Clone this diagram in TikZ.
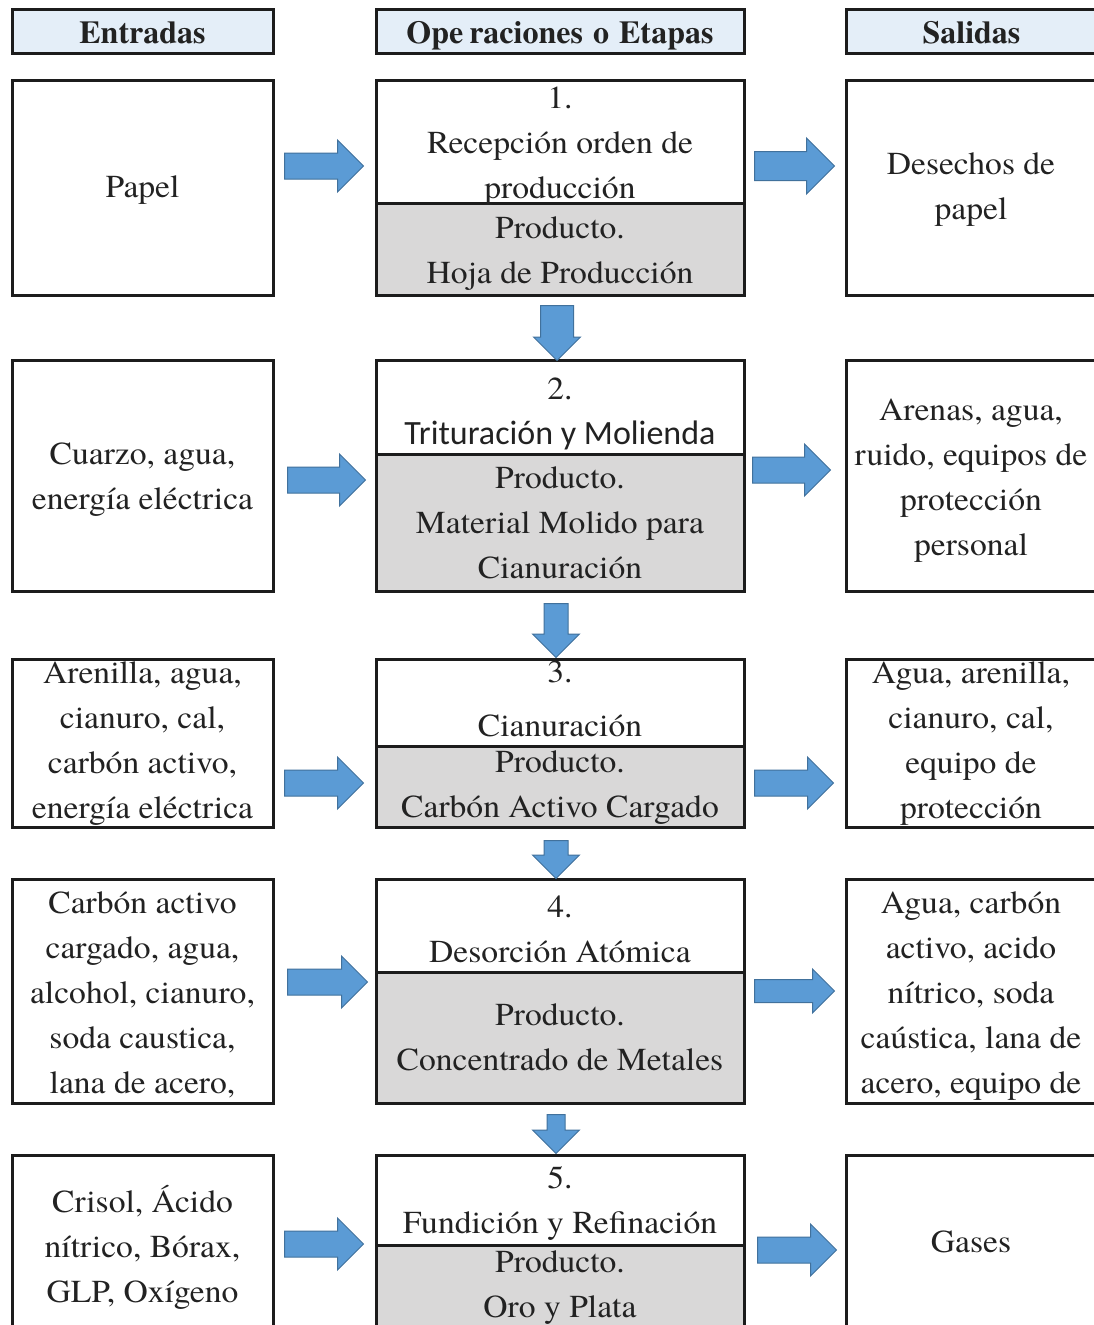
\documentclass[tikz,border=0pt]{standalone}
\usepackage{fontspec}
\setmainfont{texgyretermes}[Extension=.otf, UprightFont=*-regular, BoldFont=*-bold, ItalicFont=*-italic, FakeStretch=1.05]
\newfontfamily\headfont{texgyretermes}[Extension=.otf, UprightFont=*-regular, BoldFont=*-bold]
\newfontfamily\stagesans{Carlito}
\usetikzlibrary{shapes.arrows}
\definecolor{ink}{HTML}{1C1C1C}
\definecolor{headfill}{HTML}{E4EEF8}
\definecolor{prodfill}{HTML}{D9D8D8}
\definecolor{arrowfill}{HTML}{5B9BD5}
\definecolor{arrowline}{HTML}{41719C}
\definecolor{txtcol}{HTML}{222222}
\begin{document}
\begin{tikzpicture}[x=1pt,y=-1pt,
  cell/.style={draw=ink, line width=3pt, inner sep=0pt, outer sep=0pt, anchor=north west, fill=white},
  head/.style={cell, fill=headfill, text height=24pt, text depth=0pt, text=txtcol,
    font=\headfont\bfseries\fontsize{32}{38}\selectfont},
  prod/.style={cell, fill=prodfill},
  txt/.style={anchor=north, inner sep=0pt, align=center, text=txtcol, font=\fontsize{32}{45}\selectfont},
  blockarrow/.style={single arrow, draw=arrowline, fill=arrowfill, line width=1pt,
    inner xsep=0pt, single arrow tip angle=90, anchor=tail},
  rarrow/.style={blockarrow, minimum height=79pt, inner ysep=12.5pt, single arrow head extend=13pt},
  darrow/.style={blockarrow, rotate=-90},
]
\useasboundingbox (0,0) rectangle (1094,1325);
\clip (0,0) rectangle (1094,1325);
\fill[white] (0,0) rectangle (1094,1325);

% column headers
\node[head, minimum width=261pt, minimum height=44pt] (hIn) at (12,9) {Entradas};
\node[head, minimum width=368pt, minimum height=44pt] (hOp) at (376,9)
  {Ope\kern6pt raciones\hspace{10pt}o\hspace{10pt}Etapas};
\node[head, minimum width=251pt, minimum height=44pt] (hOut) at (846,9) {Salidas};

% row 1
\node[cell, minimum width=261pt, minimum height=215pt] (in1) at (12,80) {};
\node[cell, minimum width=368pt, minimum height=123pt] (op1) at (376,80) {};
\node[prod, minimum width=368pt, minimum height=92pt] (pr1) at (376,203) {};
\node[cell, minimum width=251pt, minimum height=215pt] (out1) at (846,80) {};
% row 2
\node[cell, minimum width=261pt, minimum height=231pt] (in2) at (12,360) {};
\node[cell, minimum width=368pt, minimum height=94pt] (op2) at (376,360) {};
\node[prod, minimum width=368pt, minimum height=137pt] (pr2) at (376,454) {};
\node[cell, minimum width=251pt, minimum height=231pt] (out2) at (846,360) {};
% row 3
\node[cell, minimum width=261pt, minimum height=168pt] (in3) at (12,659) {};
\node[cell, minimum width=368pt, minimum height=87pt] (op3) at (376,659) {};
\node[prod, minimum width=368pt, minimum height=81pt] (pr3) at (376,746) {};
\node[cell, minimum width=251pt, minimum height=168pt] (out3) at (846,659) {};
% row 4
\node[cell, minimum width=261pt, minimum height=224pt] (in4) at (12,879) {};
\node[cell, minimum width=368pt, minimum height=93pt] (op4) at (376,879) {};
\node[prod, minimum width=368pt, minimum height=131pt] (pr4) at (376,972) {};
\node[cell, minimum width=251pt, minimum height=224pt] (out4) at (846,879) {};
% row 5
\node[cell, minimum width=261pt, minimum height=190pt] (in5) at (12,1155) {};
\node[cell, minimum width=368pt, minimum height=90pt] (op5) at (376,1155) {};
\node[prod, minimum width=368pt, minimum height=100pt] (pr5) at (376,1245) {};
\node[cell, minimum width=251pt, minimum height=190pt] (out5) at (846,1155) {};

% texts, row 1
\node[txt] (tin1) at (142.5,165.5) {\strut Papel};
\node[txt] (top1) at (560,76.5) {\strut 1.\\Recepción orden de\\producción};
\node[txt] (tpr1) at (560,207) {\strut Producto.\\Hoja de Producción};
\node[txt] (tout1) at (971,142.5) {\strut Desechos de\\papel};
% row 2
\node[txt] (tin2) at (142.5,432.5) {\strut Cuarzo, agua,\\energía eléctrica};
\node[txt] (top2) at (560,367.5) {\strut 2.\\{\stagesans\fontsize{34}{45}\selectfont Trituración y Molienda}};
\node[txt] (tpr2) at (560,456.5) {\strut Producto.\\Material Molido para\\Cianuración};
\node[txt] (tout2) at (971,388.5) {\strut Arenas, agua,\\ruido, equipos de\\protección\\personal};
% row 3
\node[txt] (tin3) at (142.5,651.5) {\strut Arenilla, agua,\\cianuro, cal,\\carbón activo,\\energía eléctrica};
\node[txt] (top3) at (560,650.5) {\strut 3.\\[9pt]Cianuración};
\node[txt] (tpr3) at (560,740.5) {\strut Producto.\\Carbón Activo Cargado};
\node[txt] (tout3) at (971,651.5) {\strut Agua, arenilla,\\cianuro, cal,\\equipo de\\protección};
% row 4
\node[txt] (tin4) at (142.5,881.5) {\strut Carbón activo\\cargado, agua,\\alcohol, cianuro,\\soda caustica,\\lana de acero,};
\node[txt] (top4) at (560,885.5) {\strut 4.\\Desorción Atómica};
\node[txt] (tpr4) at (560,993.5) {\strut Producto.\\Concentrado de Metales};
\node[txt] (tout4) at (971,881.5) {\strut Agua, carbón\\activo, acido\\nítrico, soda\\caústica, lana de\\acero, equipo de};
% row 5
\node[txt] (tin5) at (142.5,1180.5) {\strut Crisol, Ácido\\nítrico, Bórax,\\GLP, Oxígeno};
\node[txt] (top5) at (560,1156.5) {\strut 5.\\Fundición y Refinación};
\node[txt] (tpr5) at (560,1240.5) {\strut Producto.\\Oro y Plata};
\node[txt] (tout5) at (971,1220.5) {\strut Gases};

% block arrows: inputs and outputs
\node[rarrow] (ain1) at (284,166) {};
\node[rarrow, minimum height=80pt, inner ysep=14pt, single arrow head extend=13.5pt] (aout1) at (754,166) {};
\node[rarrow, minimum height=78pt] (ain2) at (287,480) {};
\node[rarrow, minimum height=78pt] (aout2) at (752,470) {};
\node[rarrow] (ain3) at (284,783) {};
\node[rarrow] (aout3) at (754,783) {};
\node[rarrow, minimum height=80pt] (ain4) at (287,982) {};
\node[rarrow, minimum height=80pt, inner ysep=11pt, single arrow head extend=10.5pt] (aout4) at (754,991) {};
\node[rarrow] (ain5) at (284,1244) {};
\node[rarrow] (aout5) at (757,1250) {};

% block arrows between stages
\node[darrow, minimum height=55pt, inner ysep=16pt, single arrow head extend=7pt] (d12) at (557,305) {};
\node[darrow, minimum height=54pt, inner ysep=11.5pt, single arrow head extend=11.5pt] (d23) at (556,603) {};
\node[darrow, minimum height=38pt, inner ysep=11.5pt, single arrow head extend=11.5pt] (d34) at (556,840) {};
\node[darrow, minimum height=39pt, inner ysep=8.5pt, single arrow head extend=14.5pt] (d45) at (556,1114) {};
\end{tikzpicture}
\end{document}
